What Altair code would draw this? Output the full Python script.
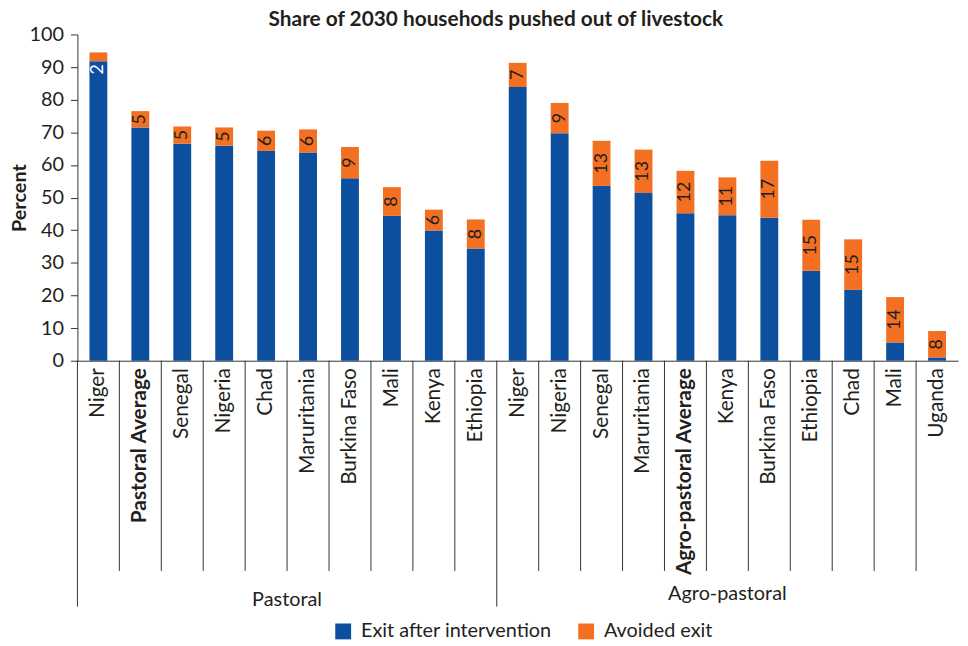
import altair as alt
import pandas as pd

# ---- data ----
groups = ["Pastoral", "Agro-pastoral"]

countries_p = ["Niger", "Pastoral Average", "Senegal", "Nigeria", "Chad",
               "Maruritania", "Burkina Faso", "Mali", "Kenya", "Ethiopia"]
exit_p = [91.8, 71.5, 66.5, 65.9, 64.3, 63.8, 55.9, 44.4, 39.9, 34.4]
avoided_p = [2.7, 5.0, 5.3, 5.6, 6.2, 7.1, 9.6, 8.8, 6.4, 8.9]
labels_p = ["2", "5", "5", "5", "6", "6", "9", "8", "6", "8"]

countries_a = ["Niger", "Nigeria", "Senegal", "Maruritania", "Agro-pastoral Average",
               "Kenya", "Burkina Faso", "Ethiopia", "Chad", "Mali", "Uganda"]
exit_a = [83.9, 69.7, 53.6, 51.4, 45.2, 44.6, 43.8, 27.6, 21.7, 5.6, 1.0]
avoided_a = [7.4, 9.3, 13.8, 13.3, 13.0, 11.6, 17.5, 15.6, 15.5, 13.9, 8.1]
labels_a = ["7", "9", "13", "13", "12", "11", "17", "15", "15", "14", "8"]

series = ["Exit after intervention", "Avoided exit"]
colors = ["#0b4f9e", "#f37022"]
bold_labels = ["Pastoral Average", "Agro-pastoral Average"]
y_ticks = [0, 10, 20, 30, 40, 50, 60, 70, 80, 90, 100]

# ---- build tables ----
rows = []
keys, names = [], []
for g, cs, ex, av, lb in [(groups[0], countries_p, exit_p, avoided_p, labels_p),
                          (groups[1], countries_a, exit_a, avoided_a, labels_a)]:
    for i, c in enumerate(cs):
        k = f"{g[0]}{i:02d}"
        keys.append(k)
        names.append(c)
        rows.append(dict(key=k, country=c, group=g, idx=i, exit=ex[i], avoided=av[i],
                         label=lb[i]))
df = pd.DataFrame(rows)

long_rows = []
for r in rows:
    long_rows.append(dict(key=r["key"], series=series[0], start=0, end=r["exit"]))
    long_rows.append(dict(key=r["key"], series=series[1], start=r["exit"],
                          end=r["exit"] + r["avoided"]))
dl = pd.DataFrame(long_rows)

df["mid"] = df["exit"] + df["avoided"] / 2
df["small"] = df["avoided"] < 4
df["first"] = df["idx"] == 0

bold_keys = [k for k, n in zip(keys, names) if n in bold_labels]

FONT = "Lato"
TXT = "#231f20"
LINE = "#333333"
W, H = 888, 329
PAD_L, PAD_T, PAD_R, PAD_B = 70, 24, 2, 284

label_expr = ("[" + ",".join("'" + n + "'" for n in names) + "][indexof(["
              + ",".join("'" + k + "'" for k in keys) + "], datum.value)]")
bold_test = " || ".join(f"datum.value == '{k}'" for k in bold_keys)

xscale = alt.Scale(domain=keys, paddingInner=0, paddingOuter=0)
yscale = alt.Scale(domain=[0, 100], nice=False)

x_axis = alt.Axis(title=None, ticks=False, labelAngle=270, labelPadding=7,
                  labelFontSize=21, labelFont=FONT, labelColor=TXT, labelLimit=0,
                  labelExpr=label_expr, domainColor=LINE,
                  labelFontWeight=alt.condition(bold_test, alt.value("bold"), alt.value("normal")))
y_axis = alt.Axis(title="Percent", values=y_ticks, grid=False, labelOverlap=False,
                  tickSize=7, tickColor=LINE, domainColor=LINE,
                  labelFontSize=20, labelFont=FONT, labelColor=TXT, labelPadding=7,
                  titleFontSize=20, titleFont=FONT, titleFontWeight="bold",
                  titleColor=TXT, titlePadding=0)

bars = alt.Chart(dl).mark_bar(width=18).encode(
    x=alt.X("key:N", scale=xscale, axis=x_axis, sort=keys),
    y=alt.Y("start:Q", scale=yscale, axis=y_axis),
    y2="end:Q",
    color=alt.Color("series:N", scale=alt.Scale(domain=series, range=colors),
                    legend=alt.Legend(orient="none", legendX=258, legendY=592,
                                      direction="horizontal", title=None,
                                      symbolType="square", symbolSize=256,
                                      symbolStrokeWidth=0, labelFontSize=20,
                                      labelFont=FONT, labelColor=TXT, labelOffset=8,
                                      labelLimit=0, columnPadding=24, padding=0)),
)

big_labels = alt.Chart(df).transform_filter("!datum.small").mark_text(
    angle=270, align="center", baseline="middle", fontSize=18, font=FONT, color=TXT
).encode(x=alt.X("key:N", scale=xscale, axis=x_axis),
         y=alt.Y("mid:Q", scale=yscale, axis=y_axis), text="label:N")

small_labels = alt.Chart(df).transform_filter("datum.small").mark_text(
    angle=270, align="right", baseline="middle", fontSize=18, font=FONT,
    color="white", dx=-3
).encode(x=alt.X("key:N", scale=xscale, axis=x_axis),
         y=alt.Y("exit:Q", scale=yscale, axis=y_axis), text="label:N")

dividers = alt.Chart(df).transform_filter("!datum.first").mark_rule(
    color=LINE, strokeWidth=1
).encode(x=alt.X("key:N", scale=xscale, bandPosition=0, axis=x_axis),
         y=alt.value(H), y2=alt.value(H + 212))

group_div = alt.Chart(df).transform_filter("datum.first").mark_rule(
    color=LINE, strokeWidth=1
).encode(x=alt.X("key:N", scale=xscale, bandPosition=0, axis=x_axis),
         y=alt.value(H), y2=alt.value(H + 248))

gl_p = alt.Chart(pd.DataFrame({"key": [keys[5]], "group": [groups[0]]})).mark_text(
    fontSize=20, font=FONT, color=TXT, baseline="alphabetic", align="center"
).encode(x=alt.X("key:N", scale=xscale, bandPosition=0, axis=x_axis), y=alt.value(H + 247),
         text="group:N")
gl_a = alt.Chart(pd.DataFrame({"key": [keys[15]], "group": [groups[1]]})).mark_text(
    fontSize=20, font=FONT, color=TXT, baseline="alphabetic", align="center"
).encode(x=alt.X("key:N", scale=xscale, bandPosition=0.5, axis=x_axis), y=alt.value(H + 241),
         text="group:N")

chart = alt.layer(bars, big_labels, small_labels, dividers, group_div, gl_p, gl_a).properties(
    width=W, height=H,
    autosize=alt.AutoSizeParams(type="none"),
    padding={"left": PAD_L, "top": PAD_T, "right": PAD_R, "bottom": PAD_B},
    title=alt.TitleParams("Share of 2030 househods pushed out of livestock",
                          fontSize=21, font=FONT, fontWeight="bold", color=TXT,
                          anchor="middle", frame="group", dx=-22, offset=-5),
).configure_view(strokeWidth=0)

chart.save("out.html", embed_options={"renderer": "svg", "actions": False})
